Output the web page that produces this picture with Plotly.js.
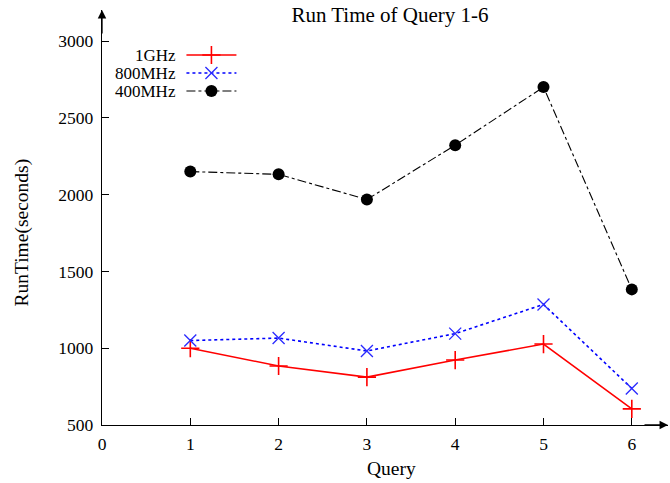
<!DOCTYPE html>
<html><head><meta charset="utf-8">
<script src="https://cdn.plot.ly/plotly-3.0.1.min.js"></script>
<style>body{margin:0;padding:0;background:#fff}#c{width:670px;height:483px}</style>
</head><body><div id="c"></div>
<script>
const queries = [1, 2, 3, 4, 5, 6];
const series1GHz = [1000, 884, 812, 923, 1027, 605];
const series800MHz = [1050, 1066, 982, 1095, 1285, 738];
const series400MHz = [2150, 2132, 1968, 2322, 2700, 1383];
const seriesNames = ['1GHz', '800MHz', '400MHz'];
const xTicks = [0, 1, 2, 3, 4, 5, 6];
const yTicks = [500, 1000, 1500, 2000, 2500, 3000];

const F = 'Liberation Serif, Times New Roman, serif';
const L = 101.5, PW = 566.5, B = 425, PH = 415;
const px = v => (v - L) / PW;
const py = v => (B - v) / PH;

const traces = [
  {x: queries, y: series1GHz, name: ' ', mode: 'lines+markers', legend: 'legend',
   line: {color: '#ff0000', width: 1.6},
   marker: {symbol: 'cross-thin', size: 13, line: {color: '#ff0000', width: 1.6}}},
  {x: queries, y: series800MHz, name: ' ', mode: 'lines+markers', legend: 'legend2',
   line: {color: '#0000ff', width: 1.6, dash: 'dot'},
   marker: {symbol: 'x-thin', size: 12, line: {color: '#2a2aff', width: 1.3}}},
  {x: queries, y: series400MHz, name: ' ', mode: 'lines+markers', legend: 'legend3',
   line: {color: '#000000', width: 1.1, dash: 'dashdot'},
   marker: {symbol: 'circle', size: 12, color: '#000000'}}
];

function leg(yc) {
  return {x: px(181), y: py(yc), xanchor: 'left', yanchor: 'middle', bgcolor: 'rgba(0,0,0,0)',
          itemwidth: 50, font: {family: F, size: 10}, borderwidth: 0};
}

const axisTitle = {family: F, size: 19.5, color: '#000'};
const legText = {family: F, size: 17, color: '#000'};

const layout = {
  width: 670, height: 483,
  margin: {l: L, r: 2, t: 10, b: 58},
  paper_bgcolor: '#fff', plot_bgcolor: '#fff',
  font: {family: F, size: 17, color: '#000'},
  title: {text: 'Run Time of Query 1-6', font: {family: F, size: 21, color: '#000'},
          x: 390/670, xanchor: 'center', xref: 'container', y: 1 - 15/483, yanchor: 'middle', yref: 'container'},
  xaxis: {range: [0, 6.41], tickvals: xTicks, ticktext: xTicks.map(String),
          showgrid: false, zeroline: false, showline: true, linecolor: '#000', linewidth: 1.3,
          ticks: 'inside', ticklen: 7, tickcolor: '#000', tickwidth: 1, ticklabelstandoff: 3,
          tickfont: {family: F, size: 17.5, color: '#000'}, fixedrange: true},
  yaxis: {range: [500, 3202], tickvals: yTicks, ticktext: yTicks.map(String),
          showgrid: false, zeroline: false, showline: true, linecolor: '#000', linewidth: 1.3,
          ticks: 'inside', ticklen: 7, tickcolor: '#000', tickwidth: 1, ticklabelstandoff: 4,
          tickfont: {family: F, size: 17.5, color: '#000'}, fixedrange: true},
  showlegend: true,
  legend: leg(55), legend2: leg(73), legend3: leg(91),
  annotations: [
    {xref: 'paper', yref: 'paper', x: 0, y: 1, ax: 0, ay: 25, showarrow: true,
     arrowhead: 2, arrowsize: 1.3, arrowwidth: 1.3, arrowcolor: '#000', text: ''},
    {xref: 'paper', yref: 'paper', x: 1, y: 0, ax: -25, ay: 0, showarrow: true,
     arrowhead: 2, arrowsize: 1.3, arrowwidth: 1.3, arrowcolor: '#000', text: ''},
    {xref: 'paper', yref: 'paper', x: px(21), y: py(233), text: 'RunTime(seconds)',
     textangle: -90, showarrow: false, xanchor: 'center', yanchor: 'middle', font: axisTitle},
    {xref: 'paper', yref: 'paper', x: px(391), y: py(468), text: 'Query',
     showarrow: false, xanchor: 'center', yanchor: 'middle', font: axisTitle},
    {xref: 'paper', yref: 'paper', x: px(178), y: py(55), text: seriesNames[0],
     showarrow: false, xanchor: 'right', yanchor: 'middle', font: legText},
    {xref: 'paper', yref: 'paper', x: px(178), y: py(73), text: seriesNames[1],
     showarrow: false, xanchor: 'right', yanchor: 'middle', font: legText},
    {xref: 'paper', yref: 'paper', x: px(178), y: py(91), text: seriesNames[2],
     showarrow: false, xanchor: 'right', yanchor: 'middle', font: legText}
  ]
};

Plotly.newPlot('c', traces, layout, {displayModeBar: false, staticPlot: true});
</script></body></html>
